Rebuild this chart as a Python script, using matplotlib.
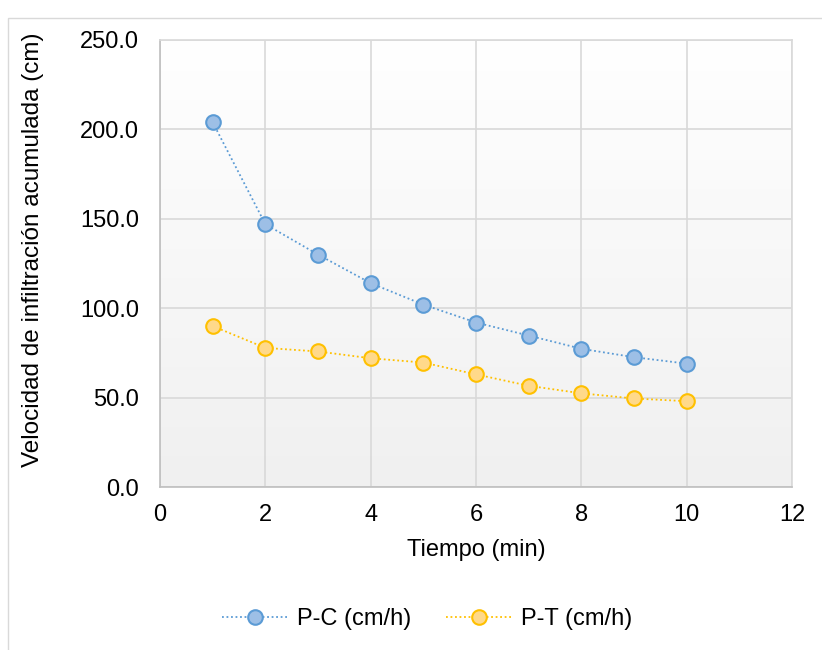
import numpy as np
import matplotlib.pyplot as plt
from matplotlib.patches import Rectangle
from matplotlib.colors import LinearSegmentedColormap

plt.rcParams['font.family'] = ['Liberation Sans', 'DejaVu Sans']

tiempo = [1, 2, 3, 4, 5, 6, 7, 8, 9, 10]
p_c = [204.0, 147.0, 130.0, 114.0, 102.0, 92.0, 84.7, 77.3, 72.6, 69.0]
p_t = [90.0, 77.8, 75.8, 72.0, 69.6, 63.0, 56.6, 52.4, 49.5, 48.0]
labels = ['P-C (cm/h)', 'P-T (cm/h)']

W, H = 822, 650
fig = plt.figure(figsize=(W / 100, H / 100), dpi=100)
fig.patches.append(Rectangle((8 / W, -0.1), 1.2, (H - 18) / H + 0.1, transform=fig.transFigure,
                             fill=False, edgecolor='#d9d9d9', linewidth=1.0))
ax = fig.add_axes([160 / W, 1 - 487 / H, (792 - 160) / W, (487 - 40) / H])

cmap = LinearSegmentedColormap.from_list('g', ['#ffffff', '#f0f0f0'])
grad = np.linspace(0, 1, 256).reshape(-1, 1)
ax.imshow(grad, cmap=cmap, extent=[0, 12, 0, 250], origin='upper', aspect='auto', zorder=0)

ax.set_xlim(0, 12)
ax.set_ylim(0, 250)
ax.set_xticks(np.arange(0, 13, 2))
ax.set_yticks(np.arange(0, 251, 50))
ax.set_yticklabels([f'{v:.1f}' for v in np.arange(0, 251, 50)])
ax.grid(True, color='#d9d9d9', linewidth=1.2, zorder=1)
ax.set_axisbelow(True)
for s in ax.spines.values():
    s.set_color('#d9d9d9')
    s.set_linewidth(1.2)
ax.spines['left'].set_color('#bfbfbf')
ax.spines['bottom'].set_color('#bfbfbf')
ax.tick_params(length=0, labelsize=17, colors='black')
ax.tick_params(axis='y', pad=15)
ax.tick_params(axis='x', pad=12)

ax.plot(tiempo, p_c, linestyle=(0, (1, 1.5)), color='#5b9bd5', linewidth=1.3,
        marker='o', markersize=10.5, markerfacecolor='#9dbfe6', markeredgecolor='#5b9bd5',
        markeredgewidth=1.5, label=labels[0], zorder=3)
ax.plot(tiempo, p_t, linestyle=(0, (1, 1.5)), color='#ffc000', linewidth=1.3,
        marker='o', markersize=10.5, markerfacecolor='#ffd98a', markeredgecolor='#ffc000',
        markeredgewidth=1.5, label=labels[1], zorder=3)

fig.text(476 / W, 1 - 550 / H, 'Tiempo (min)', fontsize=17, ha='center', va='center')
fig.text(33 / W, 1 - 250 / H, 'Velocidad de infiltración acumulada (cm)', fontsize=17.5,
         ha='center', va='center', rotation=90)

fig.legend(loc='center', bbox_to_anchor=(427 / W, 1 - 619 / H), ncol=2, frameon=False,
           fontsize=17, handlelength=2.75, columnspacing=1.5, handletextpad=0.4)

fig.savefig('out.png', dpi=100)
